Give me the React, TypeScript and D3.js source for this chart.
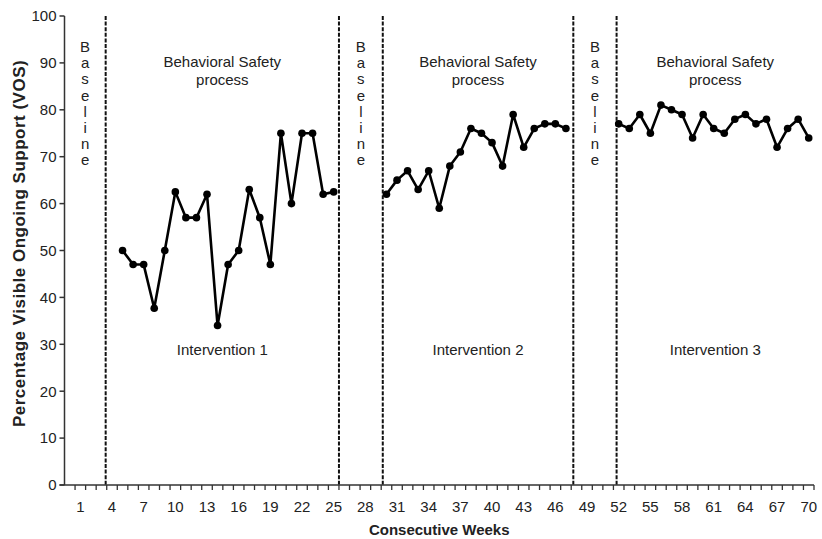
import React from "react";
import * as d3 from "d3";

// ---- data ----
const weeksPhase1 = [5, 6, 7, 8, 9, 10, 11, 12, 13, 14, 15, 16, 17, 18, 19, 20, 21, 22, 23, 24, 25];
const vosPhase1 = [50, 47, 47, 37.7, 50, 62.5, 57, 57, 62, 34, 47, 50, 63, 57, 47, 75, 60, 75, 75, 62, 62.5];
const weeksPhase2 = [30, 31, 32, 33, 34, 35, 36, 37, 38, 39, 40, 41, 42, 43, 44, 45, 46, 47];
const vosPhase2 = [62, 65, 67, 63, 67, 59, 68, 71, 76, 75, 73, 68, 79, 72, 76, 77, 77, 76];
const weeksPhase3 = [52, 53, 54, 55, 56, 57, 58, 59, 60, 61, 62, 63, 64, 65, 66, 67, 68, 69, 70];
const vosPhase3 = [77, 76, 79, 75, 81, 80, 79, 74, 79, 76, 75, 78, 79, 77, 78, 72, 76, 78, 74];

const phaseBoundaries = [3.4, 25.5, 29.65, 47.7, 51.8];
const xTickLabels = [1, 4, 7, 10, 13, 16, 19, 22, 25, 28, 31, 34, 37, 40, 43, 46, 49, 52, 55, 58, 61, 64, 67, 70];
const yTickValues = [0, 10, 20, 30, 40, 50, 60, 70, 80, 90, 100];
const interventionLabels = ["Intervention 1", "Intervention 2", "Intervention 3"];
const baselineWord = "Baseline";
const processLines = ["Behavioral Safety", "process"];
const xTitle = "Consecutive Weeks";
const yTitle = "Percentage Visible Ongoing Support (VOS)";

const W = 822;
const H = 539;
const FONT = "'Liberation Sans', Arial, Helvetica, sans-serif";
const TXT = "#222";

export default function App() {
  const x = d3.scaleLinear().domain([-0.5, 70.5]).range([64.5, 814]);
  const y = d3.scaleLinear().domain([0, 100]).range([485, 16]);

  const series = [
    weeksPhase1.map((w, i) => [w, vosPhase1[i]] as [number, number]),
    weeksPhase2.map((w, i) => [w, vosPhase2[i]] as [number, number]),
    weeksPhase3.map((w, i) => [w, vosPhase3[i]] as [number, number]),
  ];
  const line = d3
    .line<[number, number]>()
    .x((d) => x(d[0]))
    .y((d) => y(d[1]));

  const minorTicks = d3.range(0.5, 70.51, 1);

  const edges = [-0.5, ...phaseBoundaries, 70.5];
  const baselineCenters = [0, 2, 4].map((i) => (edges[i] + edges[i + 1]) / 2);
  const interventionCenters = [1, 3, 5].map((i) => (edges[i] + edges[i + 1]) / 2);

  return (
    <svg
      width={W}
      height={H}
      style={{ position: "absolute", left: 0, top: 0, background: "#fff" }}
      fontFamily={FONT}
    >
      <rect width={W} height={H} fill="#fff" />

      {phaseBoundaries.map((b, i) => (
        <line
          key={"pb" + i}
          x1={x(b)}
          x2={x(b)}
          y1={y(100)}
          y2={y(0)}
          stroke="#111"
          strokeWidth={2}
          strokeDasharray="4,1.6"
        />
      ))}

      <line x1={x(-0.5)} x2={x(-0.5)} y1={y(0)} y2={y(100)} stroke="#333" strokeWidth={1.5} />
      <line x1={x(-0.5) - 5} x2={x(70.5)} y1={y(0)} y2={y(0)} stroke="#333" strokeWidth={1.5} />
      {yTickValues.map((v) => (
        <g key={"yt" + v}>
          <line x1={x(-0.5) - 5} x2={x(-0.5)} y1={y(v)} y2={y(v)} stroke="#333" strokeWidth={1.5} />
          <text x={x(-0.5) - 8} y={y(v) + 5.3} textAnchor="end" fontSize={15} fill={TXT}>
            {v}
          </text>
        </g>
      ))}
      {minorTicks.map((t, i) => (
        <line key={"xt" + i} x1={x(t)} x2={x(t)} y1={y(0)} y2={y(0) + 5} stroke="#333" strokeWidth={1.3} />
      ))}
      {xTickLabels.map((l) => (
        <text key={"xl" + l} x={x(l)} y={512} textAnchor="middle" fontSize={15} fill={TXT}>
          {l}
        </text>
      ))}

      <text x={(x(-0.5) + x(70.5)) / 2} y={535} textAnchor="middle" fontSize={15} fontWeight="bold" fill={TXT}>
        {xTitle}
      </text>
      <text
        transform={`translate(25, ${y(51.5)}) rotate(-90)`}
        textAnchor="middle"
        fontSize={17}
        letterSpacing={0.5}
        fontWeight="bold"
        fill={TXT}
      >
        {yTitle}
      </text>

      {baselineCenters.map((c, i) => (
        <text key={"bl" + i} textAnchor="middle" fontSize={15} fill={TXT}>
          {baselineWord.split("").map((ch, j) => (
            <tspan key={j} x={x(c)} y={52 + j * 16.2}>
              {ch}
            </tspan>
          ))}
        </text>
      ))}
      {interventionCenters.map((c, i) => (
        <g key={"iv" + i}>
          <text x={x(c)} y={67} textAnchor="middle" fontSize={15} fill={TXT}>
            {processLines[0]}
          </text>
          <text x={x(c)} y={85} textAnchor="middle" fontSize={15} fill={TXT}>
            {processLines[1]}
          </text>
          <text x={x(c)} y={355} textAnchor="middle" fontSize={15} fill={TXT}>
            {interventionLabels[i]}
          </text>
        </g>
      ))}

      {series.map((s, i) => (
        <g key={"s" + i}>
          <path d={line(s) || ""} fill="none" stroke="#000" strokeWidth={2.6} strokeLinejoin="round" />
          {s.map((d, j) => (
            <circle key={j} cx={x(d[0])} cy={y(d[1])} r={3.8} fill="#000" />
          ))}
        </g>
      ))}
    </svg>
  );
}
